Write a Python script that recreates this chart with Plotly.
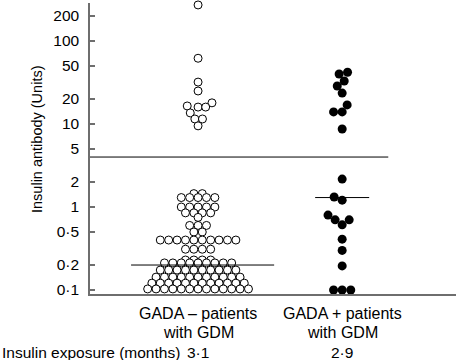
import math
import plotly.graph_objects as go

# ---------------- data ----------------
group_line1 = ["GADA – patients", "GADA + patients"]
group_line2 = ["with GDM", "with GDM"]
exposure = ["3·1", "2·9"]

# GADA- : high responders (scattered) and low values (stacked rows)
gada_neg_high = [272, 62, 32, 25, 18, 16.5, 16, 16, 13.6, 11.5, 11.5, 9.5]
gada_neg_low = (
    [1.45] * 2 + [1.3] * 5 + [1.0] * 5 + [0.85] * 4 + [0.75] * 1
    + [0.6] * 3 + [0.5] * 2 + [0.4] * 10 + [0.31] * 4
    + [0.23] * 4 + [0.212] * 9 + [0.174] * 10 + [0.143] * 11
    + [0.121] * 12 + [0.103] * 13
)
gada_pos = [42, 40, 33, 28.7, 23.6, 17, 14, 14, 8.7,
            2.17, 1.32, 1.21, 0.8, 0.7, 0.7, 0.61, 0.41, 0.3, 0.195,
            0.1, 0.1, 0.1]
medians = [0.2, 1.3]
threshold = 4

tickvals = [0.1, 0.2, 0.5, 1, 2, 5, 10, 20, 50, 100, 200]
ticktext = ["0·1", "0·2", "0·5", "1", "2", "5", "10", "20", "50", "100", "200"]

# ---------------- geometry ----------------
W, H = 456, 360
ML, MR, MT, MB = 90, 0, 3, 66
plot_w = W - ML - MR
plot_h = H - MT - MB
y_range = [-1.048, 2.458]
x_range = [-0.75, 1.79]
px_per_x = plot_w / (x_range[1] - x_range[0])


def y_px(v):
    return (y_range[1] - math.log10(v)) / (y_range[1] - y_range[0]) * plot_h


def beeswarm(values, d):
    ys = [y_px(v) for v in values]
    order = sorted(range(len(values)), key=lambda i: -ys[i])
    placed = []
    xs = [0.0] * len(values)
    for i in order:
        y = ys[i]
        forb = []
        for (xj, yj) in placed:
            dy = abs(y - yj)
            if dy < d:
                w = math.sqrt(d * d - dy * dy)
                forb.append((xj - w, xj + w))
        cands = [0.0] + [a for a, b in forb] + [b for a, b in forb]
        cands.sort(key=lambda c: (abs(c), c))
        chosen = 0.0
        for c in cands:
            if all(not (a + 1e-6 < c < b - 1e-6) for a, b in forb):
                chosen = c
                break
        xs[i] = chosen
        placed.append((chosen, y))
    return [x / px_per_x for x in xs]


def dot_rows(values, s):
    """Centered rows: identical values are laid side by side."""
    counts = {}
    for v in values:
        counts[v] = counts.get(v, 0) + 1
    seen = {}
    out = []
    for v in values:
        k = counts[v]
        j = seen.get(v, 0)
        seen[v] = j + 1
        out.append((j - (k - 1) / 2) * s / px_per_x)
    return out


neg_high_dx = beeswarm(gada_neg_high, 7.6)
neg_low_dx = dot_rows(gada_neg_low, 8.4)
pos_dx = beeswarm(gada_pos, 8.6)

neg_x = [0 + dx for dx in neg_high_dx + neg_low_dx]
neg_y = gada_neg_high + gada_neg_low

fig = go.Figure()
fig.add_trace(go.Scatter(
    x=neg_x, y=neg_y, mode="markers", cliponaxis=False,
    marker=dict(size=8, color="white", line=dict(color="black", width=1)),
    hoverinfo="skip", showlegend=False))
fig.add_trace(go.Scatter(
    x=[1 + dx for dx in pos_dx], y=gada_pos, mode="markers", cliponaxis=False,
    marker=dict(size=9, color="black", line=dict(color="black", width=0)),
    hoverinfo="skip", showlegend=False))

# threshold and medians
fig.add_shape(type="line", xref="x", yref="y", x0=x_range[0], x1=1.32,
              y0=threshold, y1=threshold, line=dict(color="black", width=1))
med_span = [(-0.465, 0.528), (0.8125, 1.1875)]
for gi, m in enumerate(medians):
    fig.add_shape(type="line", xref="x", yref="y", x0=med_span[gi][0], x1=med_span[gi][1],
                  y0=m, y1=m, line=dict(color="black", width=1))

FAM = "Liberation Sans, Arial, sans-serif"
font = dict(family=FAM, size=15.5, color="black")
gfont = dict(family=FAM, size=16, color="black")


def py(p):
    return (plot_h - (p - MT)) / plot_h


ann = []
for gi in range(2):
    ann.append(dict(x=gi, y=py(313), xref="x", yref="paper", text=group_line1[gi],
                    showarrow=False, xanchor="center", yanchor="middle", font=gfont))
    ann.append(dict(x=gi, y=py(332), xref="x", yref="paper", text=group_line2[gi],
                    showarrow=False, xanchor="center", yanchor="middle", font=gfont))
    ann.append(dict(x=gi, y=py(352), xref="x", yref="paper", text=exposure[gi],
                    showarrow=False, xanchor="center", yanchor="middle", font=font))
ann.append(dict(x=-ML / plot_w, y=py(352), xref="paper", yref="paper",
                text="Insulin exposure (months)", showarrow=False,
                xanchor="left", yanchor="middle", font=font))
ann.append(dict(x=(37 - ML) / plot_w, y=py(139), xref="paper", yref="paper",
                text="Insulin antibody (Units)", showarrow=False, textangle=-90,
                xanchor="center", yanchor="middle",
                font=dict(family=FAM, size=14.5, color="black")))

fig.update_layout(
    width=W, height=H, margin=dict(l=ML, r=MR, t=MT, b=MB, pad=0),
    plot_bgcolor="white", paper_bgcolor="white", font=font,
    annotations=ann, showlegend=False,
    xaxis=dict(range=x_range, showgrid=False, zeroline=False, showticklabels=False,
               ticks="", showline=True, linecolor="#6e6e6e", linewidth=1.5, fixedrange=True),
    yaxis=dict(type="log", range=y_range, tickvals=tickvals, ticktext=ticktext,
               showgrid=False, zeroline=False, showline=True, linecolor="#6e6e6e",
               linewidth=1.5, ticks="inside", ticklen=5, tickcolor="#6e6e6e", tickwidth=1.5,
               ticklabelstandoff=6, tickfont=font),
)

fig.write_html("out.html", config={"displayModeBar": False},
               post_script="document.body.style.margin='0';")
